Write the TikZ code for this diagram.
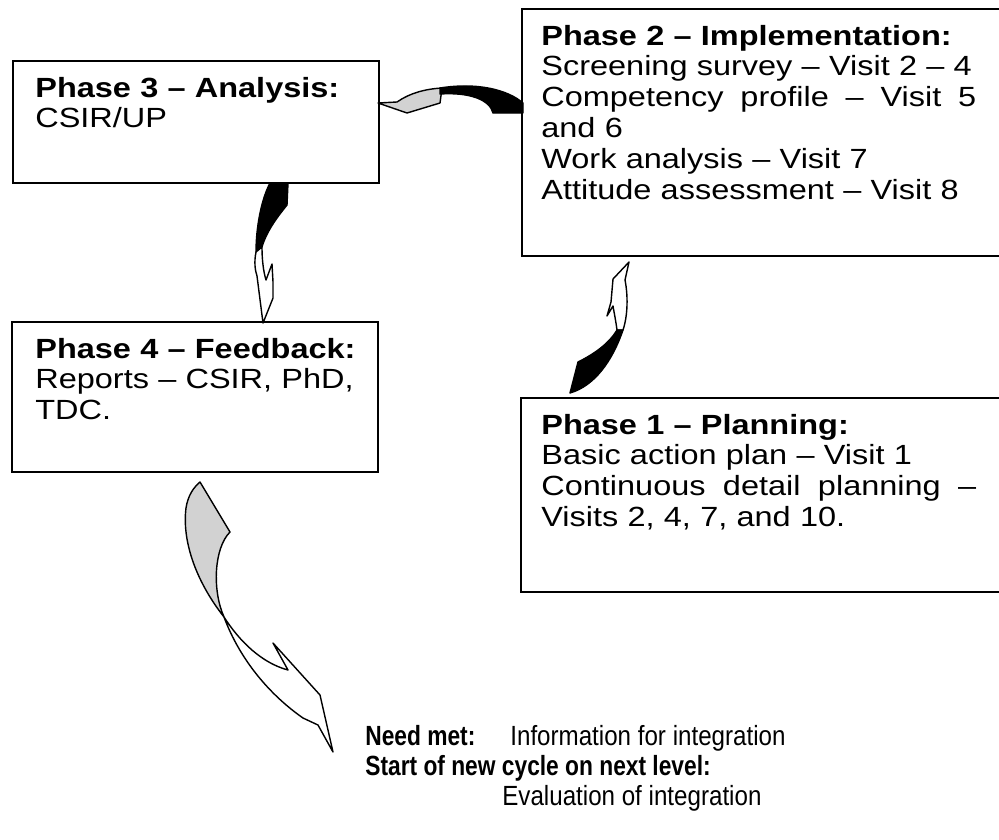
\documentclass[tikz,border=0pt]{standalone}
\usepackage{fontspec}
\setmainfont{Liberation Sans}
\newfontfamily\phasefont{Liberation Sans}[FakeStretch=1.17]
\newfontfamily\needbold{Liberation Sans}[FakeStretch=0.82]
\newfontfamily\needplain{Liberation Sans}[FakeStretch=0.87]
\definecolor{ribbongray}{HTML}{D2D2D2}

\begin{document}
\begin{tikzpicture}[
  x=0.02cm, y=-0.02cm,
  phasebox/.style={draw, line width=1.1pt},
  phasetext/.style={anchor=base west, inner sep=0pt, text width=8.7cm, align=left,
    font=\phasefont\fontsize{15.8pt}{17.6pt}\selectfont},
  needtext/.style={anchor=base west, inner sep=0pt, font=\fontsize{15.8pt}{17.6pt}\selectfont},
  ribbon/.style={draw, line width=0.8pt, line join=round}
]
\fill[white] (0,0) rectangle (999,839);
\useasboundingbox (0,0) rectangle (999,839);

\draw[phasebox] (13,61) rectangle (379,183);
\node[phasetext] (analysis) at (35,97) {\textbf{Phase 3 – Analysis:}\\CSIR/UP};

\draw[phasebox] (522,9) rectangle (1012,256);
\node[phasetext] (implement) at (541,45) {\textbf{Phase 2 – Implementation:}\\
  Screening survey – Visit 2 – 4\\
  Competency\hfill profile\hfill –\hfill Visit\hfill 5\\
  and 6\\
  Work analysis – Visit 7\\
  Attitude assessment – Visit 8};

\draw[phasebox] (12,322) rectangle (378,472);
\node[phasetext] (feedback) at (35,358) {\textbf{Phase 4 – Feedback:}\\
  Reports – CSIR, PhD,\\TDC.};

\draw[phasebox] (521,398) rectangle (1012,592);
\node[phasetext] (planning) at (541,434) {\textbf{Phase 1 – Planning:}\\
  Basic action plan – Visit 1\\
  Continuous\hfill detail\hfill planning\hfill –\\
  Visits 2, 4, 7, and 10.};

\node[needtext] (needlbl) at (365,745) {\needbold\bfseries Need met:};
\node[needtext] (needinfo) at (510,745) {\needplain Information for integration};
\node[needtext] (startlbl) at (365,775) {\needbold\bfseries Start of new cycle on next level:};
\node[needtext] (evalinfo) at (502,805) {\needplain Evaluation of integration};

\filldraw[ribbon, fill=ribbongray] (378,103) -- (397,102) .. controls (410,93) and (425,89) .. (442,88)
  -- (440,103) -- (407,113) -- cycle;
\filldraw[ribbon, fill=black] (440,88) .. controls (478,82) and (508,90) .. (523,103) -- (523,113)
  -- (493,113) .. controls (490,100) and (470,92) .. (440,94) -- cycle;

\filldraw[ribbon, fill=black] (270,183) -- (288,183) -- (287,205) .. controls (279,215) and (267,230) .. (262,247)
  -- (256,252) .. controls (256,228) and (261,200) .. (270,183) -- cycle;
\filldraw[ribbon, fill=white] (256,252) .. controls (254,262) and (255,270) .. (257,276) -- (263,323)
  -- (273,298) -- (273,282) -- (272,264) -- (266,280) .. controls (263,270) and (262,258) .. (262,247) -- cycle;

\filldraw[ribbon, fill=white] (617,330) .. controls (616,322) and (614,312) .. (613,306) -- (607,316)
  -- (611,302) -- (613,279) -- (629,262) -- (625,280) .. controls (628,295) and (628,315) .. (623,330) -- cycle;
\filldraw[ribbon, fill=black] (623,330) .. controls (612,362) and (594,386) .. (570,393) -- (578,362)
  .. controls (592,355) and (608,345) .. (617,330) -- cycle;

\filldraw[ribbon, fill=ribbongray] (200,482) -- (230,532) .. controls (214,548) and (212,590) .. (224,617)
  .. controls (195,580) and (182,540) .. (186,508) .. controls (188,495) and (194,487) .. (200,482) -- cycle;
\filldraw[ribbon, fill=white] (224,617) .. controls (240,642) and (262,663) .. (288,670) -- (273,643)
  -- (320,695) -- (333,752) -- (318,725) -- (303,718) .. controls (270,695) and (240,660) .. (224,617) -- cycle;
\end{tikzpicture}
\end{document}
